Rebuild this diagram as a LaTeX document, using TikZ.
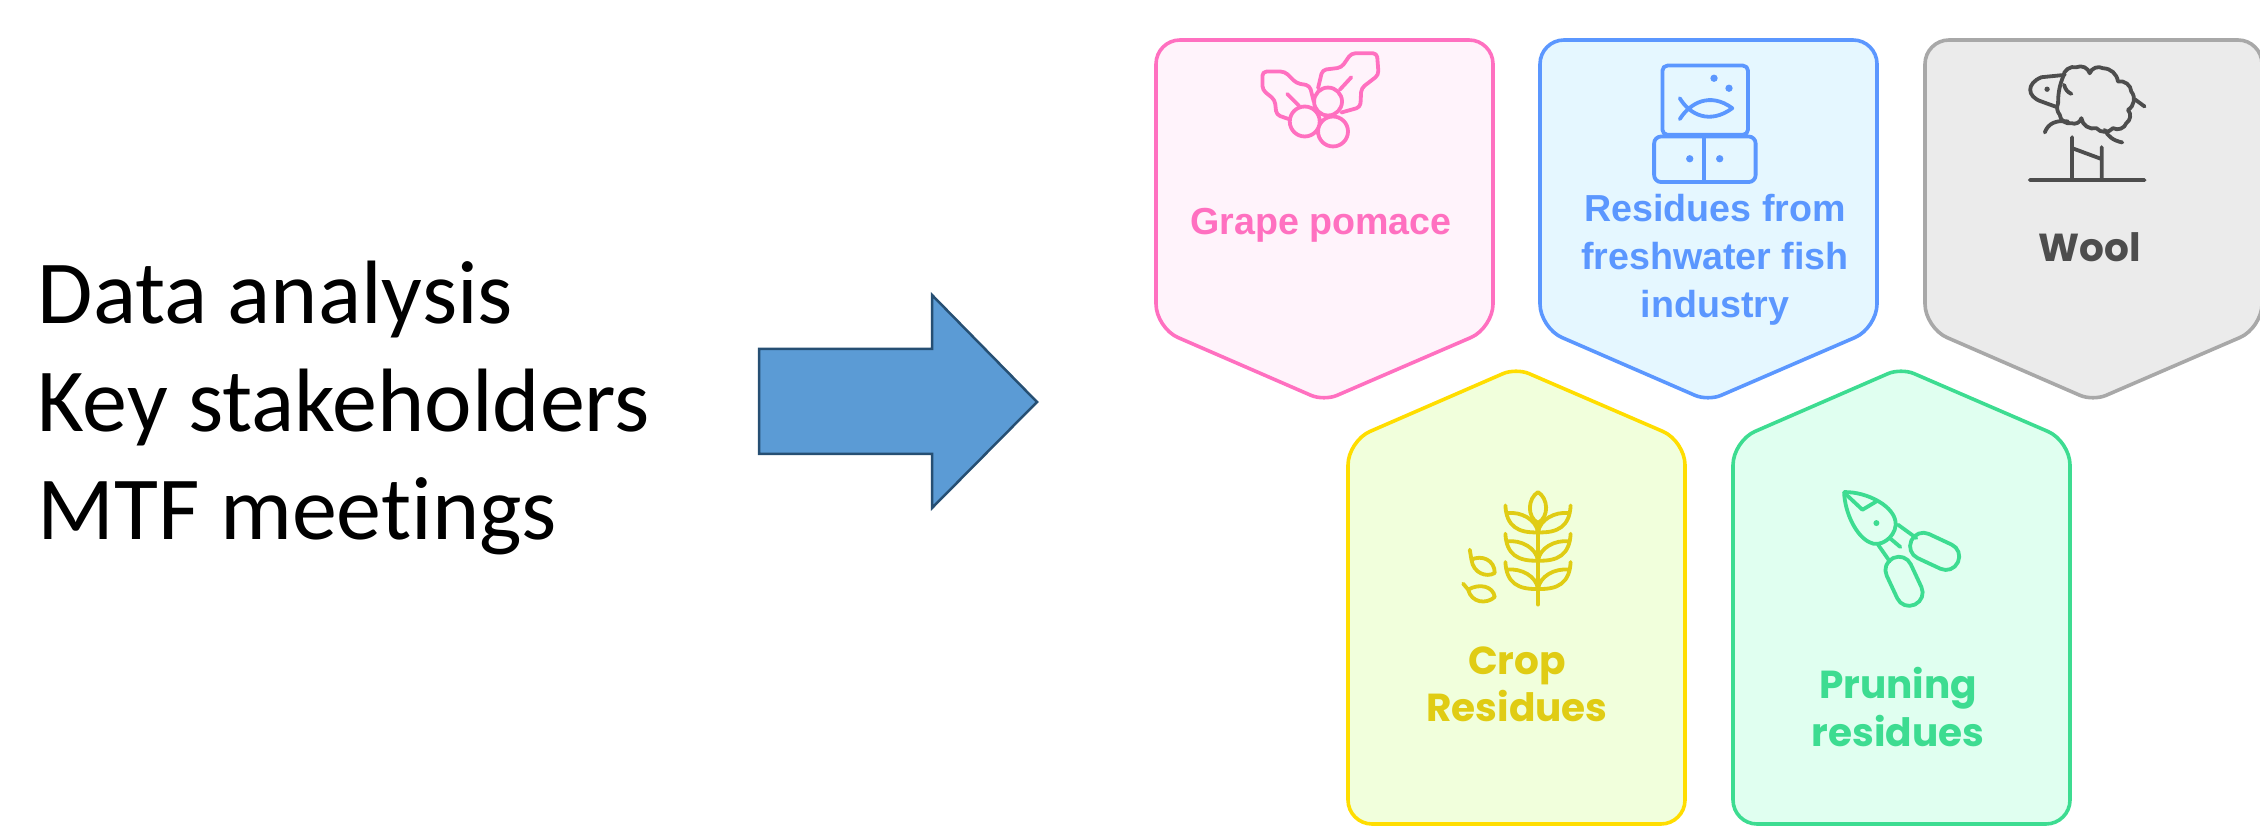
\documentclass[tikz,border=0pt]{standalone}
\usepackage{fontspec}
\usepackage{tikz}
\setmainfont{Carlito}[Ligatures=NoCommon]
\newfontfamily\cardfont{Liberation Sans}
\newfontfamily\roundfont{Poppins}
\usetikzlibrary{positioning}
\definecolor{pinkline}{HTML}{FF70C0}
\definecolor{pinkfill}{HTML}{FFF3FB}
\definecolor{blueline}{HTML}{5B97FF}
\definecolor{bluefill}{HTML}{E5F7FF}
\definecolor{grayline}{HTML}{A8A8A8}
\definecolor{grayfill}{HTML}{EBEBEB}
\definecolor{graytext}{HTML}{4D4D4D}
\definecolor{yellowline}{HTML}{FFDD00}
\definecolor{yellowfill}{HTML}{F1FFDC}
\definecolor{yellowtext}{HTML}{E0CC14}
\definecolor{greenline}{HTML}{3DDC91}
\definecolor{greenfill}{HTML}{E0FFF0}
\definecolor{arrowfill}{HTML}{5B9BD5}
\definecolor{arrowline}{HTML}{264F73}
\tikzset{
  card/.style={line width=0.036cm},
  icon/.style={line width=0.038cm,line cap=round,line join=round},
  cardlabel/.style={font=\cardfont\bfseries\fontsize{10.7}{13.7}\selectfont,align=center,inner sep=0pt},
  roundlabel/.style={font=\roundfont\bfseries\fontsize{11.1}{13.4}\selectfont,align=center,inner sep=0pt},
  zoomed/.style={x=0.003333cm,y=-0.003333cm}
}

\begin{document}
\begin{tikzpicture}[x=0.01cm,y=-0.01cm]
  \useasboundingbox (0,0) rectangle (2260,828);
  \clip (0,0) rectangle (2260,828);

  \node[anchor=west,align=left,inner sep=0pt,font=\fontsize{25.6}{30.7}\selectfont] (tasks) at (37,408)
    {Data analysis\\Key stakeholders\\MTF meetings};

  \draw[draw=arrowline,fill=arrowfill,line width=0.025cm,miter limit=10]
    (759,349) -- (932,349) -- (932,295) -- (1037,402) -- (932,508) -- (932,454) -- (759,454) -- cycle;

  % upper row
  \foreach \x/\col in {1156/pink,1540/blue,1925/gray}
    \draw[card,draw=\col line,fill=\col fill,rounded corners=0.24cm]
      (\x+168,40) -- (\x+337,40) -- (\x+337,328) [rounded corners=0.14cm] -- (\x+168,401)
      [rounded corners=0.24cm] -- (\x,328) -- (\x,40) -- cycle;
  % lower row
  \foreach \x/\col in {1348/yellow,1733/green}
    \draw[card,draw=\col line,fill=\col fill,rounded corners=0.24cm]
      (\x+168,824) -- (\x,824) -- (\x,441) [rounded corners=0.14cm] -- (\x+168,368)
      [rounded corners=0.24cm] -- (\x+337,441) -- (\x+337,824) -- cycle;

  \node[cardlabel,text=pinkline] (grape) at (1321,225) {Grape pomace};
  \node[cardlabel,text=blueline] (fish) at (1715,260) {Residues from\\freshwater fish\\industry};
  \node[roundlabel,text=graytext] (wool) at (2090,247) {Wool};
  \node[roundlabel,text=yellowtext] (crop) at (1517,684) {Crop\\Residues};
  \node[roundlabel,text=greenline] (pruning) at (1898,707) {Pruning\\residues};

  % holly
  \begin{scope}[shift={(1140,20)},zoomed,icon,draw=pinkline]
    \draw[rounded corners=0.04cm] (445,297) -- (410,285) -- (405,240) -- (368,210) -- (368,155) -- (435,155)
      -- (470,190) -- (510,197) -- (522,245);
    \draw[rounded corners=0.04cm] (535,205) -- (548,150) -- (605,143) -- (635,100) -- (712,100) -- (717,165)
      -- (665,205) -- (662,262) -- (605,278);
    \draw (442,222) -- (478,258) (635,172) -- (600,210);
    \draw[fill=pinkfill] (580,335) circle[radius=45] (495,305) circle[radius=45] (565,245) circle[radius=42];
  \end{scope}

  % fish tank
  \begin{scope}[shift={(1520,20)},zoomed,icon,draw=blueline]
    \draw[rounded corners=0.05cm] (428,137) rectangle (685,345);
    \draw[rounded corners=0.07cm] (403,350) rectangle (708,487);
    \draw (553,350) -- (553,487);
    \draw (480,298) .. controls (510,250) and (570,215) .. (638,265)
      .. controls (570,315) and (510,285) .. (480,235);
    \fill[blueline] (510,417) circle[radius=11] (600,417) circle[radius=11]
      (583,175) circle[radius=11] (628,205) circle[radius=11];
  \end{scope}

  % sheep
  \begin{scope}[shift={(1900,20)},zoomed,icon,draw=graytext]
    \draw (390,481) -- (735,481) (517,352) -- (517,481) (606,382) -- (606,481) (517,385) -- (606,418);
    \draw (495,165) -- (425,172) .. controls (380,190) and (380,230) .. (425,245) -- (472,262);
    \fill[graytext] (442,208) circle[radius=8];
    \draw (490,170) to[bend left=50] (530,142) to[bend left=50] (570,160) to[bend left=50] (610,145)
      to[bend left=40] (655,185) to[bend left=50] (695,215) to[bend left=50] (685,270)
      to[bend left=50] (680,310) to[bend left=50] (640,325) to[bend left=50] (590,325)
      to[bend left=50] (545,295) to[bend left=50] (515,310) to[bend left=50] (480,285)
      to[bend left=30] (475,250) to[bend left=10] (490,170);
    \draw (435,338) .. controls (445,310) and (470,300) .. (505,305);
    \draw (615,330) .. controls (625,350) and (640,362) .. (668,368);
    \draw (705,238) -- (735,260) (493,195) .. controls (497,210) and (505,218) .. (515,222);
  \end{scope}

  % wheat
  \begin{scope}[shift={(1330,360)},zoomed,icon,draw=yellowtext]
    \draw (625,490) -- (625,735);
    \draw (625,397) .. controls (595,415) and (590,470) .. (625,490) .. controls (660,470) and (655,415) .. (625,397);
    \foreach \yy in {0,-85,-170}
      \foreach \sx in {1,-1}
        \draw[shift={(625,\yy)},xscale=\sx] (-98,607) .. controls (-95,670) and (-60,690) .. (0,688)
          .. controls (-5,650) and (-50,625) .. (-93,630);
    \draw (420,570) -- (425,600) .. controls (455,585) and (495,600) .. (495,640)
      .. controls (470,655) and (430,640) .. (425,600);
    \draw (400,672) -- (415,690) .. controls (450,670) and (490,680) .. (495,712)
      .. controls (470,735) and (425,730) .. (415,690);
  \end{scope}

  % pruning shears
  \begin{scope}[shift={(1710,360)},zoomed,icon,draw=greenline]
    \draw (403,397) .. controls (470,395) and (560,440) .. (558,495)
      .. controls (555,535) and (510,565) .. (480,548) .. controls (440,530) and (405,460) .. (403,397);
    \draw (410,405) -- (458,450) -- (500,425);
    \fill[greenline] (500,490) circle[radius=9];
    \draw (565,495) -- (620,535) (505,555) -- (540,605) (540,535) -- (572,562);
    \draw[rounded corners=0.13cm,rotate around={-25:(675,575)}] (598,535) rectangle (752,615);
    \draw[rounded corners=0.13cm,rotate around={-65:(583,665)}] (506,625) rectangle (660,705);
  \end{scope}
\end{tikzpicture}
\end{document}
